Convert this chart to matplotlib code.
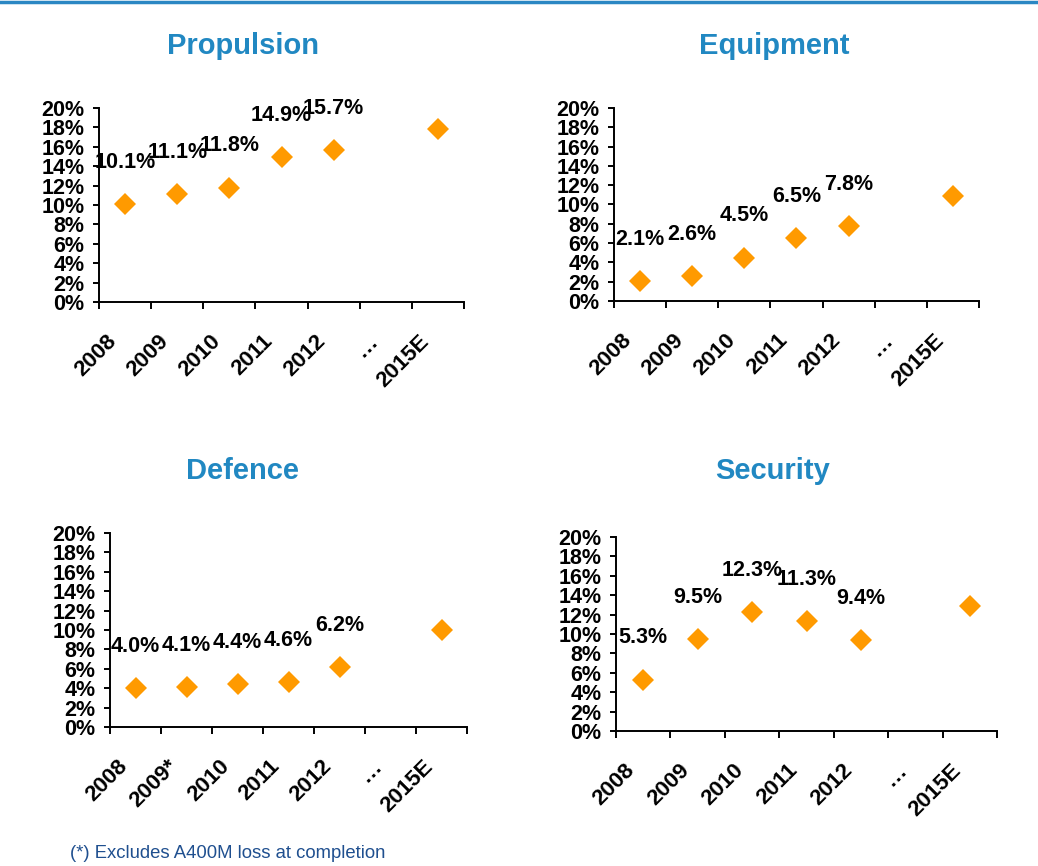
import numpy as np
import matplotlib
matplotlib.use('Agg')
import matplotlib.pyplot as plt
from matplotlib.lines import Line2D
from matplotlib.transforms import ScaledTranslation
from matplotlib.ticker import FixedLocator, FuncFormatter

# ---- data ----
categories = ['2008', '2009', '2010', '2011', '2012', '\u2026', '2015E']
categories_defence = ['2008', '2009*', '2010', '2011', '2012', '\u2026', '2015E']
propulsion = [10.1, 11.1, 11.8, 14.9, 15.7, None, 17.8]
equipment = [2.1, 2.6, 4.5, 6.5, 7.8, None, 10.9]
defence = [4.0, 4.1, 4.4, 4.6, 6.2, None, 10.0]
security = [5.3, 9.5, 12.3, 11.3, 9.4, None, 12.9]
labelled_points = 5  # data labels shown for the first five (actual) years
y_ticks = list(range(0, 21, 2))
titles = ['Propulsion', 'Equipment', 'Defence', 'Security']
footnote = '(*) Excludes A400M loss at completion'

# ---- style ----
W, H = 1038, 866
TITLE_C = '#2188C2'
ORANGE = '#FF9A00'
plt.rcParams['font.family'] = ['Liberation Sans', 'DejaVu Sans']

fig = plt.figure(figsize=(W / 100, H / 100), dpi=100)

panels = [
    (titles[0], categories, propulsion, (99, 108, 464, 302), (243, 46)),
    (titles[1], categories, equipment, (614, 108, 979, 301), (774, 46)),
    (titles[2], categories_defence, defence, (110, 533, 467, 727), (243, 471)),
    (titles[3], categories, security, (616, 537, 997, 731), (773, 471)),
]

for title, cats, vals, (l, t, r, b), (tx, ty) in panels:
    ax = fig.add_axes([l / W, 1 - b / H, (r - l) / W, (b - t) / H])
    n = len(cats)
    xs = [i + 0.5 for i, v in enumerate(vals) if v is not None]
    ys = [v for v in vals if v is not None]
    ax.plot(xs, ys, linestyle='none', marker='D', ms=11, color=ORANGE,
            markeredgewidth=0, clip_on=False, zorder=3)
    for i, v in enumerate(vals[:labelled_points]):
        ax.annotate(f'{v:.1f}%', (i + 0.5, v), xytext=(0, 30),
                    textcoords='offset points', ha='center', va='center',
                    fontsize=15.5, fontweight='bold', color='black')
    ax.set_xlim(0, n)
    ax.set_ylim(0, 20)
    ax.yaxis.set_major_locator(FixedLocator(y_ticks))
    ax.yaxis.set_major_formatter(FuncFormatter(lambda v, p: f'{v:.0f}%'))
    ax.xaxis.set_major_locator(FixedLocator(list(range(n + 1))))
    ax.set_xticklabels([])
    for s in ['top', 'right']:
        ax.spines[s].set_visible(False)
    for s in ['left', 'bottom']:
        ax.spines[s].set_linewidth(1.4)
    ax.tick_params(axis='y', direction='out', length=4.5, width=1.4, pad=6,
                   labelsize=15.5)
    ax.tick_params(axis='x', direction='out', length=5, width=1.4)
    for lab in ax.get_yticklabels():
        lab.set_fontweight('bold')
    trans = ax.get_xaxis_transform() + ScaledTranslation(-19 / 100, -29 / 100, fig.dpi_scale_trans)
    for i, c in enumerate(cats):
        ax.text(i + 0.5, 0, c, transform=trans, rotation=45, ha='right', va='top',
                rotation_mode='anchor', fontsize=16, fontweight='bold')
    fig.text(tx / W, 1 - ty / H, title, ha='center', va='center',
             fontsize=21, fontweight='bold', color=TITLE_C)

fig.add_artist(Line2D([0, 1], [1 - 1.5 / H] * 2, color='#2B87C3', lw=2.5))
fig.text(70 / W, 1 - 854 / H, footnote, ha='left', va='center', fontsize=13.3,
         color='#1F4F8F')

fig.savefig('out.png', dpi=100)
